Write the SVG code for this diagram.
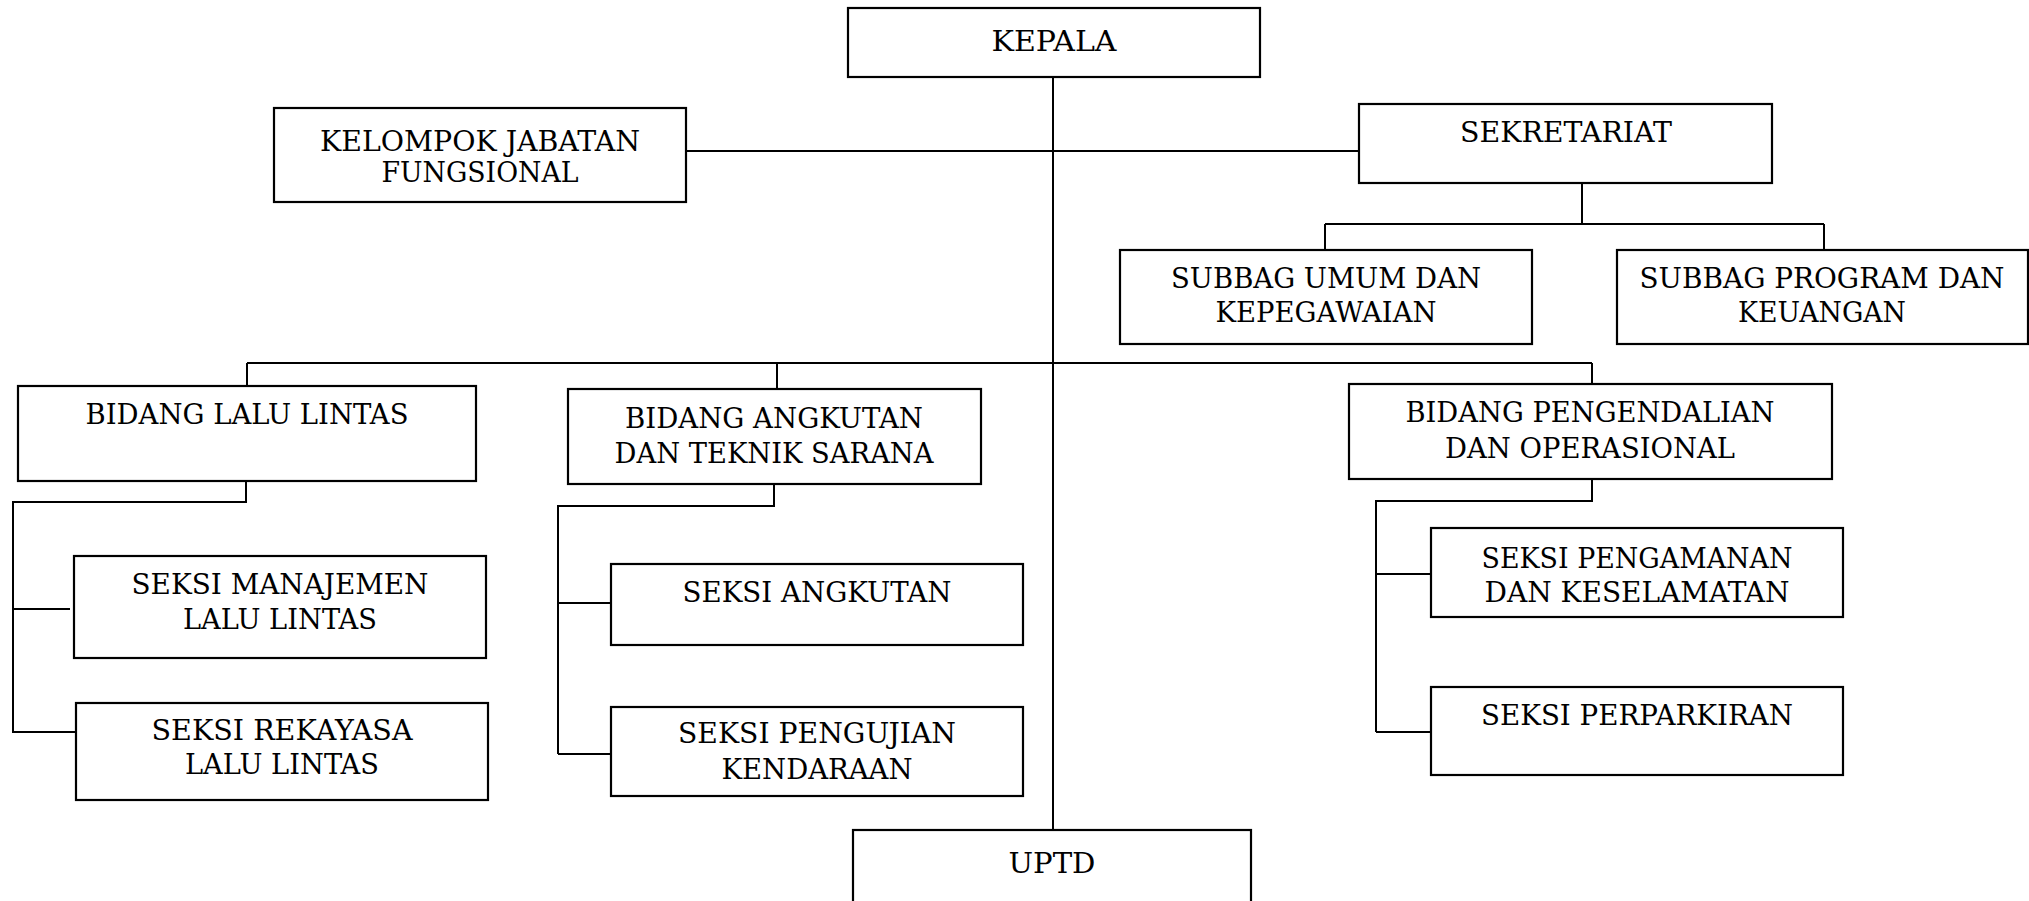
<svg xmlns="http://www.w3.org/2000/svg" width="2029" height="901" viewBox="0 0 2029 901">
<style>
rect.box{fill:#fff;stroke:#000;stroke-width:2.2}
.conn path{fill:none;stroke:#000;stroke-width:2}
text{font-family:"DejaVu Serif","Liberation Serif",serif;font-size:28.5px;fill:#000;text-anchor:middle}
</style>
<rect width="2029" height="901" fill="#fff"/>
<g class="conn" id="connectors">
<path d="M1053 77V830"/>
<path d="M686 151H1359"/>
<path d="M1582 183V224M1325 224H1824M1325 224V250M1824 224V250"/>
<path d="M247 363H1592M247 363V386M777 363V389M1592 363V384"/>
<path d="M246 481V502H13V733M13 609H70M13 732H76"/>
<path d="M774 484V506H558V754M558 603H611M558 754H611"/>
<path d="M1592 479V501H1376V732M1376 574H1431M1376 732H1431"/>
</g>
<g id="kepala"><rect class="box" x="848" y="8" width="412" height="69"/><text x="1054" y="51" textLength="125" lengthAdjust="spacingAndGlyphs">KEPALA</text></g>
<g id="kjf"><rect class="box" x="274" y="108" width="412" height="94"/><text x="480" y="151" textLength="320" lengthAdjust="spacingAndGlyphs">KELOMPOK JABATAN</text><text x="480" y="182" textLength="197" lengthAdjust="spacingAndGlyphs">FUNGSIONAL</text></g>
<g id="sekretariat"><rect class="box" x="1359" y="104" width="413" height="79"/><text x="1566" y="142" textLength="212" lengthAdjust="spacingAndGlyphs">SEKRETARIAT</text></g>
<g id="subbag-umum"><rect class="box" x="1120" y="250" width="412" height="94"/><text x="1326" y="288" textLength="310" lengthAdjust="spacingAndGlyphs">SUBBAG UMUM DAN</text><text x="1326" y="322" textLength="221" lengthAdjust="spacingAndGlyphs">KEPEGAWAIAN</text></g>
<g id="subbag-program"><rect class="box" x="1617" y="250" width="411" height="94"/><text x="1822" y="288" textLength="365" lengthAdjust="spacingAndGlyphs">SUBBAG PROGRAM DAN</text><text x="1822" y="322" textLength="168" lengthAdjust="spacingAndGlyphs">KEUANGAN</text></g>
<g id="bidang-lalu-lintas"><rect class="box" x="18" y="386" width="458" height="95"/><text x="247" y="424" textLength="323" lengthAdjust="spacingAndGlyphs">BIDANG LALU LINTAS</text></g>
<g id="bidang-angkutan"><rect class="box" x="568" y="389" width="413" height="95"/><text x="774" y="428" textLength="298" lengthAdjust="spacingAndGlyphs">BIDANG ANGKUTAN</text><text x="774" y="463" textLength="319" lengthAdjust="spacingAndGlyphs">DAN TEKNIK SARANA</text></g>
<g id="bidang-pengendalian"><rect class="box" x="1349" y="384" width="483" height="95"/><text x="1590" y="422" textLength="369" lengthAdjust="spacingAndGlyphs">BIDANG PENGENDALIAN</text><text x="1590" y="458" textLength="290" lengthAdjust="spacingAndGlyphs">DAN OPERASIONAL</text></g>
<g id="seksi-manajemen"><rect class="box" x="74" y="556" width="412" height="102"/><text x="280" y="594" textLength="297" lengthAdjust="spacingAndGlyphs">SEKSI MANAJEMEN</text><text x="280" y="629" textLength="194" lengthAdjust="spacingAndGlyphs">LALU LINTAS</text></g>
<g id="seksi-rekayasa"><rect class="box" x="76" y="703" width="412" height="97"/><text x="282" y="740" textLength="261" lengthAdjust="spacingAndGlyphs">SEKSI REKAYASA</text><text x="282" y="774" textLength="194" lengthAdjust="spacingAndGlyphs">LALU LINTAS</text></g>
<g id="seksi-angkutan"><rect class="box" x="611" y="564" width="412" height="81"/><text x="817" y="602" textLength="269" lengthAdjust="spacingAndGlyphs">SEKSI ANGKUTAN</text></g>
<g id="seksi-pengujian"><rect class="box" x="611" y="707" width="412" height="89"/><text x="817" y="743" textLength="278" lengthAdjust="spacingAndGlyphs">SEKSI PENGUJIAN</text><text x="817" y="779" textLength="191" lengthAdjust="spacingAndGlyphs">KENDARAAN</text></g>
<g id="seksi-pengamanan"><rect class="box" x="1431" y="528" width="412" height="89"/><text x="1637" y="568" textLength="311" lengthAdjust="spacingAndGlyphs">SEKSI PENGAMANAN</text><text x="1637" y="602" textLength="305" lengthAdjust="spacingAndGlyphs">DAN KESELAMATAN</text></g>
<g id="seksi-perparkiran"><rect class="box" x="1431" y="687" width="412" height="88"/><text x="1637" y="725" textLength="312" lengthAdjust="spacingAndGlyphs">SEKSI PERPARKIRAN</text></g>
<g id="uptd"><rect class="box" x="853" y="830" width="398" height="90"/><text x="1052" y="873" textLength="87" lengthAdjust="spacingAndGlyphs">UPTD</text></g>
</svg>
